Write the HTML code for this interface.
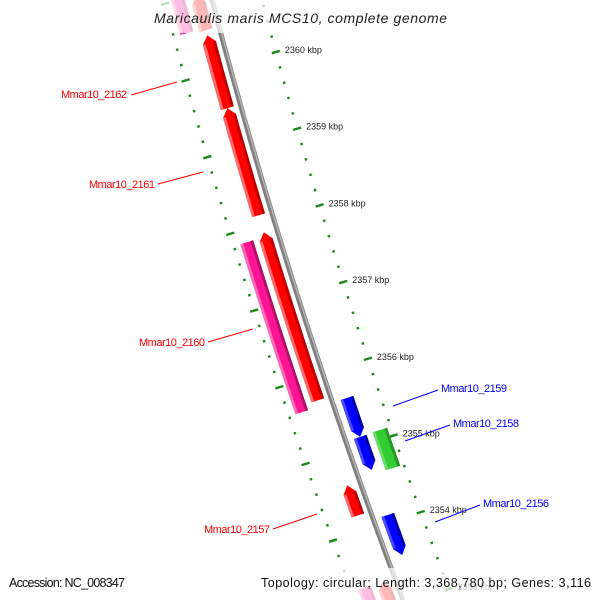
<!DOCTYPE html>
<html><head><meta charset="utf-8"><style>
html,body{margin:0;padding:0;background:#fff;overflow:hidden;width:600px;height:600px}
svg{display:block;font-family:"Liberation Sans","DejaVu Sans",sans-serif}
</style></head><body>
<svg id="map" width="600" height="600" viewBox="0 0 600 600" overflow="hidden">
<g id="ticks"></g>
<g id="backbone"></g>
<g id="features"></g>
<g id="labels">
<line x1="131" y1="95" x2="177" y2="82" stroke="#ff0000"/>
<text x="127" y="98" font-size="11" fill="#ff0000" text-anchor="end" textLength="66">Mmar10_2162</text>
<line x1="158" y1="184" x2="203" y2="172" stroke="#ff0000"/>
<text x="155" y="188" font-size="11" fill="#ff0000" text-anchor="end" textLength="66">Mmar10_2161</text>
<line x1="208" y1="342" x2="253" y2="329" stroke="#ff0000"/>
<text x="205" y="346" font-size="11" fill="#ff0000" text-anchor="end" textLength="66">Mmar10_2160</text>
<line x1="273" y1="529" x2="317" y2="514" stroke="#ff0000"/>
<text x="270" y="533" font-size="11" fill="#ff0000" text-anchor="end" textLength="66">Mmar10_2157</text>
<line x1="393" y1="406" x2="438" y2="390" stroke="#0000ff"/>
<text x="441" y="392" font-size="11" fill="#0000ff" textLength="66">Mmar10_2159</text>
<line x1="405" y1="441" x2="450" y2="425" stroke="#0000ff"/>
<text x="453" y="427" font-size="11" fill="#0000ff" textLength="66">Mmar10_2158</text>
<line x1="435" y1="522" x2="480" y2="505" stroke="#0000ff"/>
<text x="483" y="507" font-size="11" fill="#0000ff" textLength="66">Mmar10_2156</text>
</g>
<rect x="145" y="0" width="310" height="33" fill="#fff" opacity="0.72"/>
<text x="154" y="23" font-size="14" font-style="italic" fill="#222" textLength="293">Maricaulis maris MCS10, complete genome</text>
<rect x="0" y="568" width="600" height="32" fill="#fff" opacity="0.72"/>
<text x="9" y="587" font-size="12.5" fill="#111" textLength="116">Accession: NC_008347</text>
<text x="261" y="587" font-size="12.5" fill="#111" textLength="330">Topology: circular; Length: 3,368,780 bp; Genes: 3,116</text>
</svg>
<script>
const geneNames=["r1","Mmar10_2162","Mmar10_2161","Mmar10_2160b","Mmar10_2157","r6","p1","Mmar10_2160","p3","Mmar10_2159","b2","Mmar10_2156","Mmar10_2158"];
const geneStart=[2360525,2359508,2358113,2355700,2354200,2352900,2360562,2355620,2352900,2355110,2354680,2353571,2354622];
const geneEnd=[2360980,2360459,2359508,2357891,2354592,2353330,2361057,2357837,2353330,2355618,2355110,2354093,2355117];
const geneStrand=[1,1,1,1,1,1,0,0,0,-1,-1,-1,0];
const geneTrack=["red","red","red","red","red","red","pink","pink","pink","blue","blue","blue","green"];
const tickKbp=[2361,2360,2359,2358,2357,2356,2355,2354,2353];
const NS="http://www.w3.org/2000/svg";
function bx(y){return 212+0.2608*y+0.0000958*y*y;}
function P(bp,off){const y=66.5+(2360000-bp)*0.0767-off*0.29;return [bx(y)+off,y];}
const tracks={red:{o:-14,w:14,c:"#ff0000",l:"#ff6a6a",d:"#c00000"},pink:{o:-34,w:14,c:"#ff1493",l:"#ff6ab8",d:"#b0106a"},
blue:{o:16,w:14,c:"#0000ff",l:"#4a4aff",d:"#0000a8"},green:{o:38,w:16,c:"#33cc33",l:"#66dd66",d:"#229922"}};
function el(tag,attrs,parent){const e=document.createElementNS(NS,tag);for(const k in attrs)e.setAttribute(k,attrs[k]);parent.appendChild(e);return e;}
const gT=document.getElementById('ticks'),gB=document.getElementById('backbone'),gF=document.getElementById('features');
let pts=[];for(let y=-10;y<=600;y+=10)pts.push([bx(y),y]);
let bb=el('polyline',{points:pts.map(p=>p.join(',')).join(' '),fill:'none',stroke:'#808080','stroke-width':5},gB);


let bb2=el('polyline',{points:pts.map(p=>(p[0]+1)+','+p[1]).join(' '),fill:'none',stroke:'#b4b4b4','stroke-width':1.5},gB);


const rings=[50,-48];
tickKbp.forEach(k=>{
  for(let m=0;m<5;m++){
    const bp=k*1000-m*200;
    rings.forEach((off,ri)=>{
      const [x,y]=P(bp,off);const L=m===0?4:1.2;
      if(y>600||y<-5)return;
      const t=el('line',{x1:x-L,y1:y+L*0.3,x2:x+L,y2:y-L*0.3,stroke:'#1a8a1a','stroke-width':2.4},gT);
      
      
      if(m===0&&ri===0){
        const tx=el('text',{x:x+9,y:y+1,'font-size':9,fill:'#222'},gT);tx.textContent=k+' kbp';
        
        
      }
    });
  }
});
function edge(a,b,off){const r=[];const n=12;for(let i=0;i<=n;i++)r.push(P(a+(b-a)*i/n,off));return r;}
function poly(points,fill,name){const p=el('polygon',{points:points.map(q=>q[0].toFixed(1)+','+q[1].toFixed(1)).join(' '),fill:fill},gF);
  
  return p;}
geneStart.forEach((s,i)=>{
  const e=geneEnd[i],tr=tracks[geneTrack[i]],st=geneStrand[i];
  const o1=tr.o-tr.w/2,o2=tr.o+tr.w/2,ah=100;
  let a=s,b=e;if(st===1)b=e-ah;if(st===-1)a=s+ah;
  const left=edge(a,b,o1),right=edge(a,b,o2).reverse();
  let shape=[...left];
  if(st===1)shape.push(P(e,tr.o));
  shape=shape.concat(right);
  if(st===-1)shape.push(P(s,tr.o));
  poly(shape,tr.c,'gene-'+geneNames[i]);
  const l1=edge(a,b,o1),l2=edge(a,b,o1+3).reverse();poly(l1.concat(l2),tr.l,'gene-shade-light');
  const d1=edge(a,b,o2-3),d2=edge(a,b,o2).reverse();poly(d1.concat(d2),tr.d,'gene-shade-dark');
});
</script>
</body></html>
